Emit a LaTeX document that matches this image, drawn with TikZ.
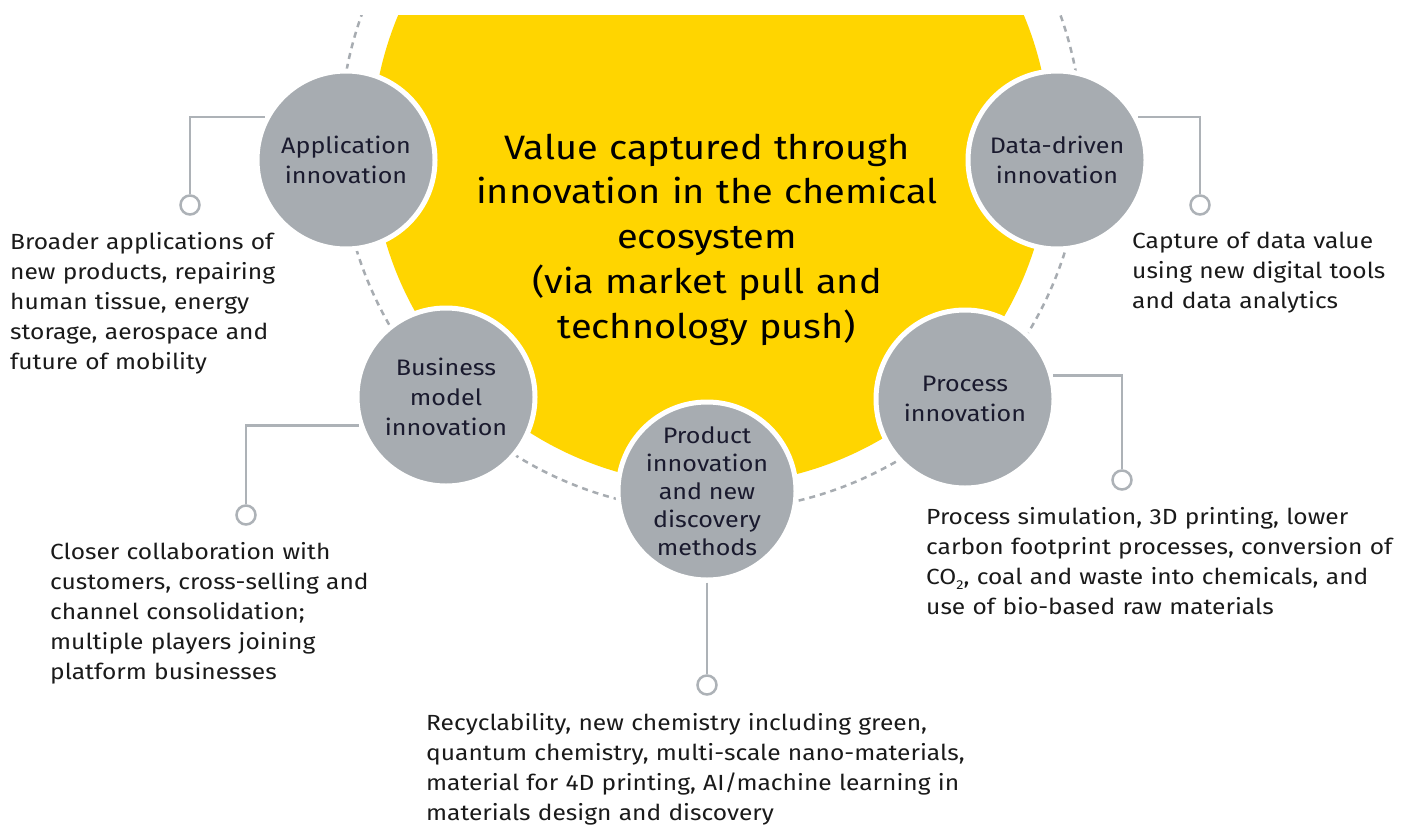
\documentclass[tikz,border=0pt]{standalone}
\usepackage{fontspec}
\setmainfont{Fira Sans}[FakeStretch=1.12]
\definecolor{eyyellow}{HTML}{FFD500}
\definecolor{eygray}{HTML}{A7ACB1}
\definecolor{linegray}{HTML}{ADB2B7}
\definecolor{navy}{HTML}{1A1A2E}
\definecolor{txt}{HTML}{1A1A1A}
\begin{document}
\begin{tikzpicture}[x=1bp,y=-1bp,
  topic/.style={circle, fill=eygray, draw=white, line width=5bp, minimum size=178bp, inner sep=0pt, align=center, text=navy, font=\fontsize{22.5}{30}\selectfont},
  dot/.style={circle, draw=linegray, fill=white, line width=2.5bp, minimum size=19bp, inner sep=0pt},
  link/.style={draw=linegray, line width=2.5bp},
  desc/.style={anchor=base west, inner sep=0pt, align=left, text=txt, font=\fontsize{22}{30.3}\selectfont},
  ring/.style={draw=eygray, line width=2.5bp, dash pattern=on 6bp off 5bp},
]
\useasboundingbox (0,0) rectangle (1404,825);
\fill[white] (0,0) rectangle (1404,825);
\begin{scope}
  \clip (0,15) rectangle (1404,825);
  \draw[ring] (711,140) circle[radius=371bp];
  \fill[eyyellow] (711,146) circle[radius=339bp];
\end{scope}

\node[anchor=base, text width=560bp, align=center, inner sep=0pt, text=black, font=\fontsize{34}{45}\selectfont] (title) at (707,159)
  {Value captured through\\innovation in the chemical\\ecosystem\\(via market pull and\\technology push)};

\node[topic] (app) at (346,160) {Application\\innovation};
\node[topic] (data) at (1057,160) {Data-driven\\innovation};
\node[topic] (biz) at (446,397) {Business\\model\\innovation};
\node[topic] (proc) at (965,399) {Process\\innovation};
\node[topic, font=\fontsize{22.5}{28}\selectfont] (prod) at (707,491) {Product\\innovation\\and new\\discovery\\methods};

\node[dot] (appdot) at (190,205) {};
\node[dot] (datadot) at (1200,205) {};
\node[dot] (bizdot) at (246,515) {};
\node[dot] (procdot) at (1122,480) {};
\node[dot] (proddot) at (707,685) {};

\draw[link] (appdot.north) |- (app.152);
\draw[link] (datadot.north) |- (data.28);
\draw[link] (bizdot.north) |- (biz.198);
\draw[link] (procdot.north) |- (proc.15);
\draw[link] (prod.south) -- (proddot.north);

\node[desc, text width=320bp] (appdesc) at (10,249)
  {Broader applications of\\new products, repairing\\human tissue, energy\\storage, aerospace and\\future of mobility};
\node[desc, text width=270bp] (datadesc) at (1132,248)
  {Capture of data value\\using new digital tools\\and data analytics};
\node[desc, text width=478bp] (procdesc) at (926,524)
  {Process simulation, 3D printing, lower\\carbon footprint processes, conversion of\\CO\raisebox{-0.45ex}{\fontsize{13}{13}\selectfont 2}, coal and waste into chemicals, and\\use of bio-based raw materials};
\node[desc, text width=340bp] (bizdesc) at (50,559)
  {Closer collaboration with\\customers, cross-selling and\\channel consolidation;\\multiple players joining\\platform businesses};
\node[desc, text width=580bp] (proddesc) at (426,730)
  {Recyclability, new chemistry including green,\\quantum chemistry, multi-scale nano-materials,\\material for 4D printing, AI/machine learning in\\materials design and discovery};
\end{tikzpicture}
\end{document}
